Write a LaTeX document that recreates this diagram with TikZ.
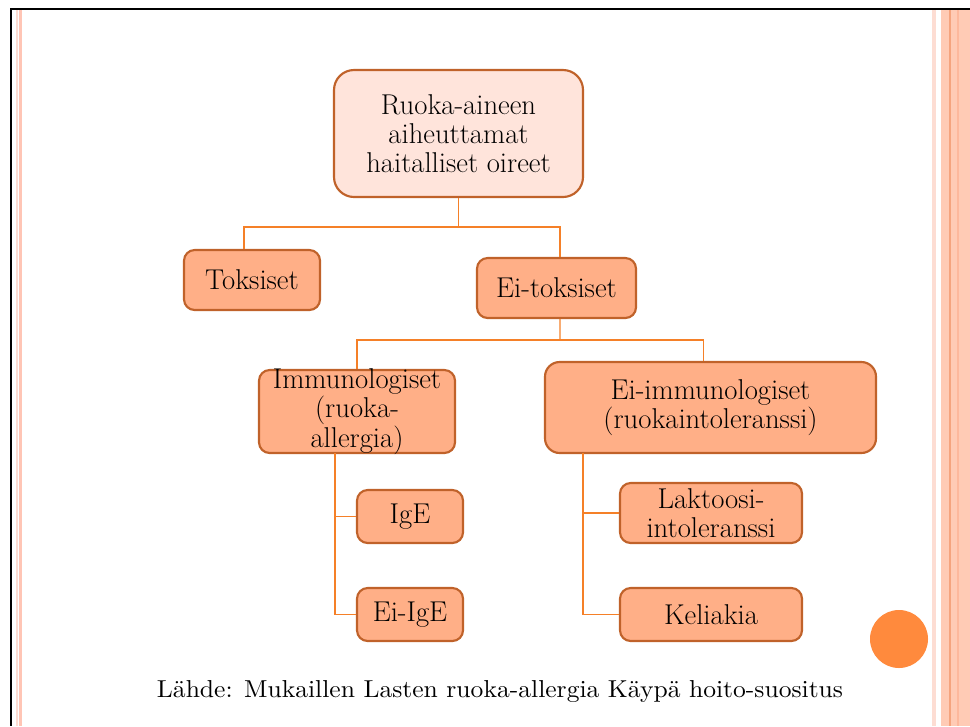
\documentclass[tikz,border=0pt]{standalone}
\usetikzlibrary{calc}
\definecolor{boxfill}{RGB}{255,175,135}
\definecolor{topfill}{RGB}{255,228,219}
\definecolor{boxline}{RGB}{192,98,42}
\definecolor{connline}{RGB}{245,128,40}
\definecolor{dotfill}{RGB}{255,138,61}
\definecolor{stripea}{RGB}{253,221,211}
\definecolor{stripeb}{RGB}{255,197,181}
\definecolor{stripec}{RGB}{255,203,181}
\definecolor{stripeline}{RGB}{245,164,126}
\definecolor{stripefaint}{RGB}{253,184,156}
\tikzset{
  boxfont/.style={font=\fontsize{21.5}{22}\selectfont},
  box/.style={draw=boxline, line width=1.6pt, fill=boxfill, rounded corners=8pt,
    align=center, inner sep=0pt, boxfont},
  rootbox/.style={box, fill=topfill, rounded corners=15pt},
  boxtext/.style={align=center, inner sep=0pt, boxfont},
  conn/.style={draw=connline, line width=0.8pt},
}
\begin{document}
\begin{tikzpicture}[x=0.75pt, y=-0.75pt]
  % page area and frame
  \fill[white] (0,0) rectangle (970,726);
  \useasboundingbox (0,0) rectangle (970,726);
  \fill[stripea] (16,10) rectangle (18,726);
  \fill[stripeb] (19,10) rectangle (22,726);
  \fill[stripea] (932,10) rectangle (936,726);
  \fill[stripec] (941,10) rectangle (970,726);
  \fill[stripeline] (949,10) rectangle (951,726);
  \fill[stripefaint] (957,10) rectangle (959,726);
  \fill[black] (10,8) rectangle (970,10);
  \fill[black] (10,8) rectangle (12,726);

  % nodes
  \node[rootbox, minimum width=186.75pt, minimum height=95.25pt] (root) at (458.5,133.5)
    {Ruoka-aineen\\aiheuttamat\\haitalliset oireet};
  \node[box, minimum width=102pt, minimum height=45pt] (tox) at (252,280) {Toksiset};
  \node[box, minimum width=119.25pt, minimum height=45pt] (eitox) at (556.5,288) {Ei-toksiset};
  % the label of this box runs slightly past its edges, so it is set separately
  \node[box, minimum width=147pt, minimum height=62.25pt] (immu) at (357,411.5) {};
  \node[boxtext] (immutext) at (immu.center) {Immunologiset\\(ruoka-\\allergia)};
  \node[box, rounded corners=11pt, minimum width=248.25pt, minimum height=68.25pt] (eiimmu) at (710.5,407.5)
    {Ei-immunologiset\\(ruokaintoleranssi)};
  \node[box, minimum width=79.5pt, minimum height=39.75pt] (ige) at (410,516.5) {IgE};
  \node[box, minimum width=79.5pt, minimum height=39.75pt] (eiige) at (410,614.5) {Ei-IgE};
  \node[box, minimum width=136.5pt, minimum height=45pt] (lakt) at (711,513)
    {Laktoosi-\\intoleranssi};
  \node[box, minimum width=136.5pt, minimum height=39.75pt] (keli) at (711,614.5) {Keliakia};

  % junction points
  \coordinate (j1) at (458.5,227);
  \coordinate (j2) at (560,340);
  \coordinate (s1) at (335,453);
  \coordinate (s2) at (583,453);

  % connectors
  \draw[conn] (root.south) -- (j1);
  \draw[conn] (j1) -| ([xshift=-6pt]tox.north);
  \draw[conn] (j1) -| ([xshift=2.6pt]eitox.north);
  \draw[conn] ([xshift=2.6pt]eitox.south) -- (j2);
  \draw[conn] (j2) -| (immu.north);
  \draw[conn] (j2) -| ([xshift=-5.6pt]eiimmu.north);
  \draw[conn] (s1) |- (ige.west);
  \draw[conn] (s1) |- (eiige.west);
  \draw[conn] (s2) |- (lakt.west);
  \draw[conn] (s2) |- (keli.west);

  % decoration dot
  \fill[dotfill] (899,639) circle[radius=21.75pt];

  % source line
  \node[inner sep=0pt] (src) at (500,692)
    {\resizebox{514.5pt}{12.75pt}{Lähde: Mukaillen Lasten ruoka-allergia Käypä hoito-suositus}};
\end{tikzpicture}
\end{document}
